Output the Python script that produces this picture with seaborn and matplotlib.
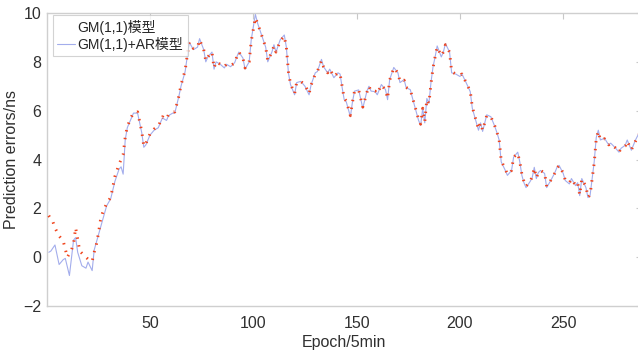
import pandas as pd
import matplotlib.pyplot as plt
import seaborn as sns

# GM(1,1)+AR 模型 (blue line)
ar_epoch = [1, 2, 4, 6, 8, 9, 11, 13, 14, 15, 17, 19, 20, 22, 23, 25, 27, 29, 31, 33,
            35, 36, 37, 38, 39, 41, 42, 44, 46, 47, 48, 50, 52, 54, 56, 58, 59, 61, 62, 64,
            65, 67, 68, 69, 71, 73, 74, 76, 77, 78, 80, 81, 82, 84, 86, 87, 89, 91, 92, 93,
            95, 96, 98, 99, 101, 102, 104, 106, 107, 109, 110, 111, 113, 115, 116, 117, 118, 120, 121, 123,
            125, 127, 128, 130, 131, 133, 134, 136, 137, 139, 141, 142, 143, 144, 145, 147, 148, 149, 151, 153,
            155, 156, 157, 159, 160, 162, 164, 165, 166, 168, 170, 171, 173, 174, 176, 177, 179, 180, 181, 182,
            183, 184, 185, 186, 187, 188, 189, 191, 192, 193, 195, 196, 198, 200, 201, 203, 205, 206, 208, 209,
            210, 211, 213, 215, 217, 218, 219, 220, 222, 223, 225, 226, 228, 229, 230, 231, 232, 234, 235, 236,
            237, 238, 239, 241, 242, 243, 244, 246, 247, 248, 250, 251, 253, 254, 256, 257, 258, 259, 261, 262,
            263, 264, 265, 266, 267, 268, 270, 272, 273, 275, 277, 278, 280, 281, 283, 285, 288]
ar_err = [0.2, 0.25, 0.5, -0.3, -0.1, -0.05, -0.75, 0.7, 0.8, 0.2, -0.35, -0.45, -0.2, -0.55, 0.3, 0.9, 1.5, 2.1, 2.4, 3.1,
          3.6, 3.7, 3.4, 4.8, 5.3, 5.7, 5.9, 5.9, 5.1, 4.5, 4.6, 5.0, 5.2, 5.3, 5.7, 5.6, 5.8, 5.9, 5.9, 6.6,
          7.0, 7.6, 8.2, 8.8, 8.5, 8.6, 8.95, 8.5, 8.0, 8.2, 8.4, 7.7, 8.0, 7.9, 7.75, 7.9, 7.8, 7.97, 8.2, 8.4,
          8.15, 7.7, 8.0, 8.9, 9.95, 9.6, 9.1, 8.6, 8.0, 8.4, 8.7, 8.4, 8.9, 9.1, 8.6, 7.55, 7.07, 6.65, 7.15, 7.2,
          7.0, 6.65, 7.07, 7.55, 7.6, 8.1, 7.8, 7.55, 7.7, 7.35, 7.55, 7.5, 6.95, 6.45, 6.36, 5.75, 6.36, 6.8, 6.85, 6.1,
          6.8, 7.0, 6.8, 6.78, 6.65, 7.07, 6.86, 6.45, 7.27, 7.77, 7.55, 7.15, 7.27, 6.94, 6.86, 6.53, 5.9, 5.6, 5.4, 6.1,
          5.5, 6.5, 6.3, 7.15, 7.8, 8.2, 8.65, 8.2, 8.4, 8.75, 8.4, 7.55, 7.5, 7.4, 7.5, 7.15, 6.78, 6.1, 5.5, 5.2,
          5.5, 5.15, 5.83, 5.75, 5.33, 5.08, 4.8, 3.9, 3.55, 3.35, 3.55, 4.1, 4.3, 3.9, 3.35, 3.05, 2.85, 3.1, 3.26, 3.68,
          3.22, 3.47, 3.55, 3.43, 2.85, 3.0, 3.14, 3.47, 3.68, 3.76, 3.43, 3.14, 3.0, 3.22, 2.93, 3.05, 2.52, 3.22, 2.85, 2.44,
          2.52, 3.22, 3.9, 4.9, 5.2, 4.8, 4.87, 4.6, 4.67, 4.5, 4.3, 4.46, 4.58, 4.8, 4.38, 4.8, 5.3]

# GM(1,1) 模型 (red dotted)
gm_epoch = [1, 3, 4, 6, 8, 10, 12, 13, 14, 15, 16, 18, 20, 22, 23, 24, 25, 26, 27, 29,
            31, 33, 35, 37, 38, 39, 41, 42, 44, 46, 47, 48, 50, 52, 54, 56, 58, 59, 61, 62,
            64, 65, 67, 68, 69, 71, 73, 74, 76, 77, 78, 80, 81, 82, 84, 86, 87, 89, 91, 92,
            93, 95, 96, 98, 99, 101, 102, 104, 106, 107, 109, 110, 111, 113, 115, 116, 117, 118, 120, 121,
            123, 125, 127, 128, 130, 131, 133, 134, 136, 137, 139, 141, 142, 143, 144, 145, 147, 148, 149, 151,
            153, 155, 156, 157, 159, 160, 162, 164, 165, 166, 168, 170, 171, 173, 174, 176, 177, 179, 180, 181,
            182, 183, 184, 185, 186, 187, 188, 189, 191, 192, 193, 195, 196, 198, 200, 201, 203, 205, 206, 208,
            209, 210, 211, 213, 215, 217, 218, 219, 220, 222, 223, 225, 226, 228, 229, 230, 231, 232, 234, 235,
            236, 237, 238, 239, 241, 242, 243, 244, 246, 247, 248, 250, 251, 253, 254, 256, 257, 258, 259, 261,
            262, 263, 264, 265, 266, 267, 268, 270, 272, 273, 275, 277, 278, 280, 281, 283, 285, 288]
gm_err = [1.7, 1.45, 1.2, 0.87, 0.66, 0.0, 0.3, 0.55, 1.2, 0.74, 0.25, 0.08, -0.08, -0.17, 0.2, 0.5, 0.95, 1.5, 1.8, 2.2,
          2.45, 3.3, 3.8, 4.2, 4.9, 5.35, 5.75, 5.9, 5.95, 5.15, 4.55, 4.65, 5.05, 5.25, 5.35, 5.75, 5.65, 5.85, 5.95, 5.95,
          6.6, 7.05, 7.65, 8.25, 8.8, 8.55, 8.6, 8.9, 8.5, 8.05, 8.2, 8.4, 7.75, 8.0, 7.9, 7.8, 7.9, 7.85, 7.95, 8.2,
          8.4, 8.15, 7.75, 8.0, 8.85, 9.8, 9.6, 9.1, 8.6, 8.05, 8.4, 8.65, 8.4, 8.85, 9.05, 8.6, 7.6, 7.1, 6.7, 7.15,
          7.2, 7.05, 6.7, 7.05, 7.5, 7.6, 8.05, 7.8, 7.55, 7.7, 7.4, 7.55, 7.5, 7.0, 6.5, 6.4, 5.8, 6.35, 6.8, 6.85,
          6.15, 6.75, 7.0, 6.8, 6.8, 6.7, 7.05, 6.85, 6.5, 7.25, 7.75, 7.55, 7.2, 7.25, 6.95, 6.85, 6.55, 5.95, 5.65, 5.45,
          6.1, 5.55, 6.45, 6.3, 7.1, 7.75, 8.2, 8.6, 8.25, 8.4, 8.7, 8.4, 7.6, 7.5, 7.45, 7.5, 7.15, 6.8, 6.15, 5.55,
          5.25, 5.5, 5.2, 5.8, 5.75, 5.35, 5.1, 4.8, 3.95, 3.6, 3.4, 3.55, 4.1, 4.25, 3.9, 3.4, 3.1, 2.9, 3.1, 3.3,
          3.65, 3.25, 3.45, 3.55, 3.45, 2.9, 3.0, 3.15, 3.45, 3.65, 3.75, 3.45, 3.15, 3.05, 3.2, 2.95, 3.05, 2.55, 3.2, 2.9,
          2.45, 2.55, 3.2, 3.85, 4.85, 5.15, 4.8, 4.85, 4.6, 4.65, 4.5, 4.3, 4.45, 4.55, 4.75, 4.4, 4.75, 5.25]

x_ticks = [50, 100, 150, 200, 250]
y_ticks = [-2, 0, 2, 4, 6, 8, 10]

sns.set_style("white")
plt.rcParams['font.family'] = ['Liberation Sans', 'Noto Sans CJK SC', 'DejaVu Sans']

gm_df = pd.DataFrame({'epoch': gm_epoch, 'err': gm_err})
ar_df = pd.DataFrame({'epoch': ar_epoch, 'err': ar_err})

fig = plt.figure(figsize=(6.38, 3.56), dpi=100)
# right edge of the box falls just outside the image, like the reference
ax = fig.add_axes([0.0732, 0.1404, 0.9326, 0.8231])

sns.lineplot(data=ar_df, x='epoch', y='err', ax=ax, color='#a3adec', linewidth=0.8,
             label='GM(1,1)+AR模型', zorder=2)
sns.lineplot(data=gm_df, x='epoch', y='err', ax=ax, color='#f0441c', linewidth=2.1,
             dashes=(0.5, 2.2), label='GM(1,1)模型', zorder=3)

ax.set_xlim(0, 288)
ax.set_ylim(-2, 10)
ax.set_xticks(x_ticks)
ax.set_yticks(y_ticks)
ax.tick_params(direction='in', length=4, color='#c8c8c8', labelsize=11.5,
               labelcolor='#303030', top=True, right=True)
ax.tick_params(axis='x', pad=7)
ax.tick_params(axis='y', pad=4)
for s in ax.spines.values():
    s.set_color('#cfcfcf')
    s.set_linewidth(1.0)

ax.set_xlabel('Epoch/5min', fontsize=11.5, color='#303030', labelpad=3)
ax.set_ylabel('Prediction errors/ns', fontsize=11.5, color='#303030', labelpad=3)

handles, labels = ax.get_legend_handles_labels()
leg = ax.legend(handles[::-1], labels[::-1], loc='upper left', fontsize=10, frameon=True,
                fancybox=False, borderpad=0.3, handlelength=1.3, handletextpad=0.2,
                labelspacing=0.2, borderaxespad=0.0, bbox_to_anchor=(0.01, 0.992))
leg.get_frame().set_edgecolor('#c8c8c8')
leg.get_frame().set_linewidth(0.8)
# the dotted sample is not visible in the reference legend
leg.legend_handles[0].set_visible(False)

fig.savefig('out.png', dpi=100)
